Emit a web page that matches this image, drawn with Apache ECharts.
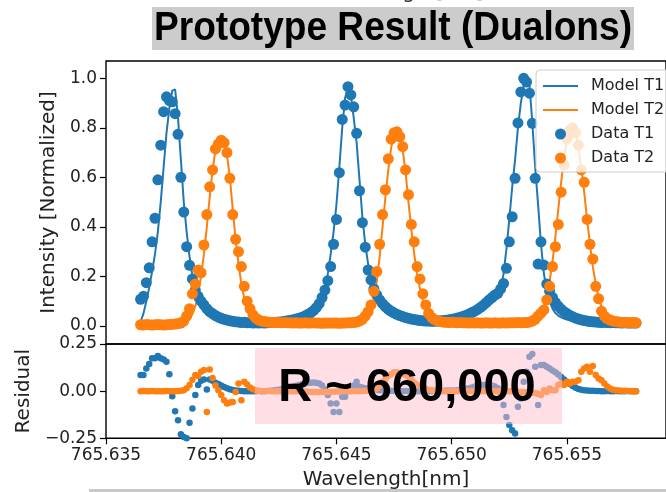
<!DOCTYPE html>
<html>
<head>
<meta charset="utf-8">
<script src="https://cdn.jsdelivr.net/npm/echarts@6/dist/echarts.min.js"></script>
<style>
  html, body { margin: 0; padding: 0; background: #ffffff; }
  #main { width: 666px; height: 492px; }
</style>
</head>
<body>
<div id="main"></div>
<script>
// Scan grid: wavelength sampling of the sweep (nm)
const WL_START = 765.6365;
const WL_STEP = 0.000125;

// Normalized transmission, channel T1 (measured)
const dataT1 = [
  0.108, 0.12, 0.175, 0.235, 0.34, 0.435, 0.59, 0.73, 0.865, 0.925,
  0.91, 0.905, 0.857, 0.774, 0.60, 0.46, 0.32, 0.245, 0.19, 0.145,
  0.12, 0.10, 0.085, 0.07, 0.058, 0.05, 0.042, 0.036, 0.031, 0.027,
  0.024, 0.021, 0.019, 0.017, 0.016, 0.014, 0.015, 0.013, 0.014, 0.012,
  0.013, 0.012, 0.013, 0.012, 0.013, 0.014, 0.014, 0.015, 0.016, 0.017,
  0.019, 0.021, 0.023, 0.025, 0.028, 0.031, 0.035, 0.04, 0.046, 0.053,
  0.062, 0.074, 0.09, 0.115, 0.145, 0.183, 0.24, 0.33, 0.43, 0.619,
  0.834, 0.892, 0.966, 0.933, 0.885, 0.778, 0.546, 0.417, 0.318, 0.226,
  0.186, 0.15, 0.125, 0.105, 0.09, 0.078, 0.068, 0.06, 0.053, 0.047,
  0.042, 0.038, 0.034, 0.031, 0.028, 0.026, 0.024, 0.022, 0.021, 0.02,
  0.02, 0.019, 0.019, 0.02, 0.021, 0.022, 0.023, 0.025, 0.027, 0.029,
  0.032, 0.035, 0.039, 0.043, 0.048, 0.054, 0.06, 0.067, 0.075, 0.084,
  0.094, 0.105, 0.115, 0.125, 0.132, 0.15, 0.172, 0.233, 0.34, 0.441,
  0.596, 0.82, 0.945, 1.0, 0.985, 0.94, 0.818, 0.596, 0.25, 0.34,
  0.246, 0.17, 0.14, 0.115, 0.095, 0.08, 0.068, 0.058, 0.05, 0.043,
  0.037, 0.032, 0.028, 0.025, 0.022, 0.02, 0.018, 0.017, 0.016, 0.015,
  0.014, 0.015, 0.014, 0.013, 0.014, 0.013, 0.013, 0.012, 0.013, 0.012,
  0.012, 0.012, 0.012
];

// Normalized transmission, channel T2 (measured)
const dataT2 = [
  0.005, 0.004, 0.006, 0.005, 0.004, 0.005, 0.006, 0.005, 0.004, 0.005,
  0.006, 0.007, 0.008, 0.01, 0.012, 0.02, 0.04, 0.07, 0.13, 0.17,
  0.226, 0.215, 0.327, 0.45, 0.562, 0.63, 0.715, 0.735, 0.75, 0.74,
  0.70, 0.596, 0.45, 0.35, 0.30, 0.24, 0.16, 0.10, 0.07, 0.045,
  0.032, 0.024, 0.02, 0.018, 0.016, 0.015, 0.014, 0.015, 0.014, 0.013,
  0.014, 0.013, 0.013, 0.012, 0.013, 0.012, 0.012, 0.013, 0.012, 0.012,
  0.013, 0.012, 0.012, 0.011, 0.012, 0.012, 0.012, 0.012, 0.012, 0.011,
  0.012, 0.012, 0.013, 0.013, 0.014, 0.016, 0.02, 0.027, 0.04, 0.058,
  0.085, 0.14, 0.22, 0.33, 0.45, 0.55, 0.675, 0.754, 0.78, 0.784,
  0.764, 0.724, 0.63, 0.53, 0.41, 0.34, 0.24, 0.19, 0.13, 0.085,
  0.051, 0.035, 0.026, 0.021, 0.018, 0.016, 0.015, 0.014, 0.015, 0.014,
  0.013, 0.014, 0.013, 0.013, 0.012, 0.013, 0.012, 0.013, 0.012, 0.012,
  0.013, 0.012, 0.012, 0.013, 0.012, 0.012, 0.013, 0.012, 0.013, 0.013,
  0.013, 0.014, 0.013, 0.014, 0.014, 0.016, 0.02, 0.027, 0.04, 0.052,
  0.065, 0.105, 0.16, 0.24, 0.32, 0.41, 0.54, 0.65, 0.755, 0.79,
  0.80, 0.78, 0.73, 0.63, 0.58, 0.43, 0.33, 0.27, 0.16, 0.11,
  0.06, 0.04, 0.03, 0.024, 0.02, 0.018, 0.016, 0.015, 0.015, 0.014,
  0.014, 0.014, 0.013
];

// Fitted model, channel T1
const modelT1 = [
  0.017, 0.05, 0.10, 0.155, 0.22, 0.29, 0.38, 0.50, 0.64, 0.78,
  0.88, 0.95, 0.955, 0.84, 0.67, 0.50, 0.38, 0.28, 0.20, 0.145,
  0.11, 0.08, 0.06, 0.047, 0.038, 0.032, 0.027, 0.024, 0.022, 0.02,
  0.019, 0.018, 0.017, 0.016, 0.016, 0.015, 0.015, 0.015, 0.014, 0.014,
  0.014, 0.014, 0.014, 0.014, 0.014, 0.014, 0.014, 0.015, 0.015, 0.016,
  0.017, 0.018, 0.02, 0.022, 0.024, 0.027, 0.03, 0.034, 0.039, 0.045,
  0.052, 0.062, 0.078, 0.11, 0.15, 0.21, 0.29, 0.38, 0.49, 0.64,
  0.80, 0.92, 0.965, 0.93, 0.84, 0.74, 0.59, 0.44, 0.33, 0.25,
  0.19, 0.14, 0.105, 0.08, 0.065, 0.054, 0.046, 0.04, 0.035, 0.031,
  0.028, 0.026, 0.024, 0.022, 0.021, 0.02, 0.019, 0.018, 0.018, 0.018,
  0.018, 0.018, 0.018, 0.019, 0.019, 0.02, 0.021, 0.022, 0.023, 0.025,
  0.027, 0.029, 0.032, 0.035, 0.039, 0.043, 0.048, 0.054, 0.061, 0.07,
  0.08, 0.09, 0.10, 0.11, 0.125, 0.15, 0.21, 0.31, 0.43, 0.56,
  0.67, 0.80, 0.90, 0.97, 1.0, 0.975, 0.82, 0.64, 0.49, 0.33,
  0.213, 0.14, 0.10, 0.07, 0.052, 0.042, 0.035, 0.03, 0.026, 0.023,
  0.021, 0.019, 0.018, 0.017, 0.016, 0.016, 0.015, 0.015, 0.014, 0.014,
  0.014, 0.013, 0.013, 0.013, 0.013, 0.012, 0.012, 0.012, 0.012, 0.012,
  0.012, 0.012, 0.012
];

// Fitted model, channel T2
const modelT2 = [
  0.004, 0.004, 0.004, 0.004, 0.004, 0.004, 0.004, 0.004, 0.004, 0.004,
  0.004, 0.004, 0.004, 0.004, 0.005, 0.008, 0.015, 0.028, 0.048, 0.08,
  0.13, 0.20, 0.29, 0.40, 0.52, 0.63, 0.71, 0.75, 0.76, 0.745,
  0.69, 0.60, 0.47, 0.35, 0.25, 0.17, 0.11, 0.075, 0.05, 0.036,
  0.028, 0.022, 0.019, 0.017, 0.016, 0.015, 0.014, 0.014, 0.013, 0.013,
  0.013, 0.012, 0.012, 0.012, 0.012, 0.012, 0.012, 0.012, 0.012, 0.012,
  0.012, 0.012, 0.012, 0.012, 0.012, 0.012, 0.012, 0.012, 0.012, 0.012,
  0.012, 0.012, 0.012, 0.013, 0.014, 0.016, 0.019, 0.024, 0.032, 0.045,
  0.068, 0.11, 0.18, 0.28, 0.40, 0.52, 0.63, 0.72, 0.77, 0.79,
  0.77, 0.71, 0.62, 0.50, 0.39, 0.29, 0.21, 0.15, 0.105, 0.072,
  0.05, 0.037, 0.029, 0.024, 0.02, 0.018, 0.016, 0.015, 0.014, 0.014,
  0.014, 0.014, 0.014, 0.014, 0.014, 0.014, 0.014, 0.014, 0.014, 0.014,
  0.013, 0.013, 0.013, 0.013, 0.013, 0.013, 0.013, 0.013, 0.013, 0.013,
  0.013, 0.014, 0.014, 0.014, 0.015, 0.017, 0.02, 0.026, 0.036, 0.052,
  0.08, 0.12, 0.18, 0.26, 0.36, 0.47, 0.58, 0.68, 0.75, 0.79,
  0.80, 0.78, 0.72, 0.64, 0.54, 0.43, 0.33, 0.24, 0.17, 0.115,
  0.078, 0.054, 0.04, 0.031, 0.025, 0.021, 0.019, 0.018, 0.017, 0.016,
  0.016, 0.015, 0.015
];

// Residual (data - model), channel T1
const residT1 = [
  0.085, 0.085, 0.12, 0.144, 0.174, 0.174, 0.186, 0.175, 0.168, 0.156,
  0.089, -0.027, -0.106, -0.154, -0.229, -0.243, -0.25, -0.168, -0.092, -0.021,
  0.032, 0.055, 0.062, 0.009, 0.062, 0.055, 0.045, 0.038, 0.03, 0.022,
  0.016, 0.01, 0.006, 0.003, 0.002, 0.001, 0.0, 0.0, -0.001, 0.0,
  0.0, 0.001, 0.0, 0.0, 0.001, 0.002, 0.004, 0.006, 0.008, 0.01,
  0.013, 0.016, 0.02, 0.024, 0.028, 0.032, 0.036, 0.04, 0.043, 0.045,
  0.046, 0.045, 0.04, 0.03, 0.01, -0.02, -0.066, -0.11, -0.066, -0.11,
  -0.03, -0.03, 0.0, 0.02, 0.03, 0.05, 0.023, 0.02, 0.015, 0.012,
  0.01, 0.008, 0.006, 0.005, 0.004, 0.003, 0.002, 0.002, 0.001, 0.001,
  0.0, 0.0, 0.001, 0.0, 0.0, -0.001, 0.0, 0.0, 0.001, 0.0,
  0.0, 0.0, 0.001, 0.001, 0.002, 0.002, 0.003, 0.003, 0.004, 0.004,
  0.005, 0.008, 0.01, 0.013, 0.016, 0.02, 0.024, 0.027, 0.03, 0.032,
  0.033, 0.032, 0.03, 0.025, 0.015, -0.021, -0.074, -0.137, -0.18, -0.207,
  -0.225, -0.083, -0.039, 0.05, 0.103, 0.183, 0.197, 0.13, -0.074, 0.138,
  0.138, 0.13, 0.12, 0.11, 0.1, 0.088, 0.075, 0.062, 0.05, 0.038,
  0.027, 0.018, 0.012, 0.008, 0.005, 0.003, 0.002, 0.002, 0.001, 0.001,
  0.0, 0.0, 0.001, 0.0, 0.0, 0.001, 0.0, 0.0, 0.0, 0.001,
  0.0, 0.0, 0.0
];

// Residual (data - model), channel T2
const residT2 = [
  0.0, 0.001, -0.001, 0.0, 0.001, 0.0, -0.001, 0.0, 0.0, 0.001,
  0.0, -0.001, 0.0, 0.001, 0.002, 0.005, 0.015, 0.032, 0.06, 0.085,
  0.08, 0.103, 0.112, -0.11, 0.115, 0.07, 0.03, 0.005, -0.021, -0.048,
  -0.066, -0.06, -0.057, -0.004, 0.04, -0.048, 0.05, 0.035, 0.02, 0.01,
  0.005, 0.002, 0.0, 0.0, 0.001, 0.0, 0.0, -0.001, 0.0, 0.0,
  0.001, 0.0, 0.0, -0.001, 0.0, 0.0, 0.0, -0.002, -0.003, -0.004,
  -0.005, -0.005, -0.006, -0.005, -0.004, -0.004, -0.003, -0.003, -0.002, -0.002,
  -0.001, 0.0, 0.0, 0.0, 0.001, 0.0, 0.0, 0.001, 0.001, 0.002,
  0.003, 0.005, 0.015, 0.03, 0.05, 0.065, 0.08, 0.09, 0.1, 0.1,
  0.095, 0.09, 0.085, 0.075, 0.06, 0.045, 0.035, 0.025, 0.018, 0.012,
  0.008, 0.005, 0.003, 0.002, 0.001, 0.0, 0.0, 0.0, 0.0, 0.0,
  0.0, 0.001, 0.0, 0.0, 0.0, -0.001, 0.0, 0.0, 0.0, 0.0,
  0.0, 0.0, 0.001, 0.0, 0.0, 0.0, 0.0, -0.001, 0.0, 0.0,
  -0.002, -0.003, -0.004, -0.005, -0.006, -0.006, -0.008, -0.01, -0.015, -0.021,
  0.005, -0.004, 0.014, 0.005, 0.005, 0.032, 0.04, 0.032, 0.05, 0.04,
  0.05, 0.05, 0.058, 0.103, 0.12, 0.13, 0.103, 0.133, 0.085, 0.067,
  0.058, 0.04, 0.025, 0.014, 0.008, 0.005, 0.003, 0.002, 0.002, 0.001,
  0.001, 0.0, 0.0
];

// Axis tick positions
const wavelengthTicks = [765.635, 765.640, 765.645, 765.650, 765.655];
const intensityTicks = [0.0, 0.2, 0.4, 0.6, 0.8, 1.0];
const residualTicks = [-0.25, 0.0, 0.25];

const TITLE = 'Prototype Result (Dualons)';
const RESOLUTION_TEXT = 'R ~ 660,000';

// Pair each value with its wavelength on the scan grid
const wavelength = dataT1.map((_, i) => WL_START + i * WL_STEP);
const pairs = (vals) => vals.map((v, i) => [wavelength[i], v]);

const BLUE = '#1f77b4';
const ORANGE = '#ff7f0e';
const AXIS_FONT = '"DejaVu Sans", "Liberation Sans", sans-serif';
const X_MIN = 765.635;
const X_MAX = 765.6593;

// Fit the condensed heading to its banner width
const titleFont = 'bold 41px "Liberation Sans Narrow", "Liberation Sans", Arial, sans-serif';
const measureCtx = document.createElement('canvas').getContext('2d');
measureCtx.font = titleFont;
const titleScale = 478 / measureCtx.measureText(TITLE).width;

const minusFmt = (digits) => (v) => {
  const s = Math.abs(v).toFixed(digits);
  return v < -1e-9 ? '\u2212' + s : s;
};

const chart = echarts.init(document.getElementById('main'), null, { renderer: 'canvas', width: 666, height: 492 });

const option = {
  animation: false,
  backgroundColor: '#ffffff',
  grid: [
    { left: 106, top: 61, width: 580, height: 283, show: true, borderColor: '#000', borderWidth: 1.4, backgroundColor: 'transparent' },
    { left: 106, top: 344, width: 580, height: 94.3, show: true, borderColor: '#000', borderWidth: 1.4, backgroundColor: 'transparent' }
  ],
  xAxis: [
    {
      gridIndex: 0, type: 'value', min: X_MIN, max: X_MAX,
      axisLine: { show: false, onZero: false },
      axisTick: { show: false }, axisLabel: { show: false }, splitLine: { show: false }
    },
    {
      gridIndex: 1, type: 'value', min: X_MIN, max: X_MAX,
      axisLine: { show: false, onZero: false },
      axisTick: { show: true, length: 6, lineStyle: { color: '#000', width: 1.2 }, customValues: wavelengthTicks },
      axisLabel: {
        customValues: wavelengthTicks, formatter: (v) => v.toFixed(3),
        fontFamily: AXIS_FONT, fontSize: 17, color: '#222', margin: 9
      },
      splitLine: { show: false },
      name: 'Wavelength[nm]', nameLocation: 'middle', nameGap: 31,
      nameTextStyle: { fontFamily: AXIS_FONT, fontSize: 20, color: '#222' }
    }
  ],
  yAxis: [
    {
      gridIndex: 0, type: 'value', min: -0.0727, max: 1.0698,
      axisLine: { show: false, onZero: false },
      axisTick: { show: true, length: 6, lineStyle: { color: '#000', width: 1.2 }, customValues: intensityTicks },
      axisLabel: {
        customValues: intensityTicks, formatter: minusFmt(1),
        fontFamily: AXIS_FONT, fontSize: 17, color: '#222', margin: 9
      },
      splitLine: { show: false },
      name: 'Intensity [Normalized]', nameLocation: 'middle', nameGap: 43, nameRotate: 90,
      nameTextStyle: { fontFamily: AXIS_FONT, fontSize: 20, color: '#222' }
    },
    {
      gridIndex: 1, type: 'value', min: -0.25, max: 0.25,
      axisLine: { show: false, onZero: false },
      axisTick: { show: true, length: 6, lineStyle: { color: '#000', width: 1.2 }, customValues: residualTicks },
      axisLabel: {
        customValues: residualTicks, formatter: minusFmt(2),
        fontFamily: AXIS_FONT, fontSize: 17, color: '#222', margin: 9
      },
      splitLine: { show: false },
      name: 'Residual', nameLocation: 'middle', nameGap: 64, nameRotate: 90,
      nameTextStyle: { fontFamily: AXIS_FONT, fontSize: 20, color: '#222' }
    }
  ],
  legend: {
    data: [
      { name: 'Model T1', itemStyle: { opacity: 0 } },
      { name: 'Model T2', itemStyle: { opacity: 0 } },
      { name: 'Data T1', icon: 'circle' },
      { name: 'Data T2', icon: 'circle' }
    ],
    orient: 'vertical', left: 536, top: 70,
    itemWidth: 35, itemHeight: 11, itemGap: 8,
    padding: [8, 10, 6, 6],
    backgroundColor: 'rgba(255,255,255,0.8)',
    borderColor: '#cccccc', borderWidth: 1, borderRadius: 4,
    textStyle: { fontFamily: AXIS_FONT, fontSize: 16, color: '#222', padding: [0, 0, 0, 8] },
    selectedMode: false, z: 20
  },
  series: [
    {
      name: 'Model T1', type: 'line', xAxisIndex: 0, yAxisIndex: 0,
      data: pairs(modelT1), symbol: 'none', smooth: false,
      lineStyle: { color: BLUE, width: 2 }, itemStyle: { color: BLUE }, z: 2
    },
    {
      name: 'Model T2', type: 'line', xAxisIndex: 0, yAxisIndex: 0,
      data: pairs(modelT2), symbol: 'none', smooth: false,
      lineStyle: { color: ORANGE, width: 2 }, itemStyle: { color: ORANGE }, z: 2
    },
    {
      name: 'Data T1', type: 'scatter', xAxisIndex: 0, yAxisIndex: 0,
      data: pairs(dataT1), symbolSize: 11, itemStyle: { color: BLUE, opacity: 1 }, z: 3
    },
    {
      name: 'Data T2', type: 'scatter', xAxisIndex: 0, yAxisIndex: 0,
      data: pairs(dataT2), symbolSize: 11, itemStyle: { color: ORANGE, opacity: 1 }, z: 4
    },
    {
      name: 'Residual T1', type: 'scatter', xAxisIndex: 1, yAxisIndex: 1,
      data: pairs(residT1), symbolSize: 6.5, itemStyle: { color: BLUE, opacity: 1 }, z: 3
    },
    {
      name: 'Residual T2', type: 'scatter', xAxisIndex: 1, yAxisIndex: 1,
      data: pairs(residT2), symbolSize: 6.5, itemStyle: { color: ORANGE, opacity: 1 }, z: 4
    }
  ],
  graphic: [
    // caption remnant above the heading
    {
      type: 'text', x: 400, y: 3, z: 30,
      style: { text: 'Wavelength[nm]', font: '20px ' + AXIS_FONT, fill: '#333', align: 'center', verticalAlign: 'bottom' }
    },
    // heading banner
    { type: 'rect', shape: { x: 152, y: 7, width: 482, height: 43 }, style: { fill: '#cccccc' }, z: 30 },
    {
      type: 'text', x: 393, y: 29, scaleX: titleScale, z: 31,
      style: { text: TITLE, font: titleFont, fill: '#000', align: 'center', verticalAlign: 'middle' }
    },
    // resolution annotation over the residual panel
    { type: 'rect', shape: { x: 255, y: 348, width: 307, height: 76 }, style: { fill: 'rgba(255,192,203,0.5)' }, z: 30 },
    {
      type: 'text', x: 407, y: 388, z: 31,
      style: { text: RESOLUTION_TEXT, font: 'bold 47px "Liberation Sans", Arial, sans-serif', fill: '#000', align: 'center', verticalAlign: 'middle' }
    },
    // rule along the bottom
    { type: 'rect', shape: { x: 89, y: 489, width: 577, height: 3 }, style: { fill: '#c8c8c8' }, z: 30 }
  ]
};

chart.setOption(option);
</script>
</body>
</html>
